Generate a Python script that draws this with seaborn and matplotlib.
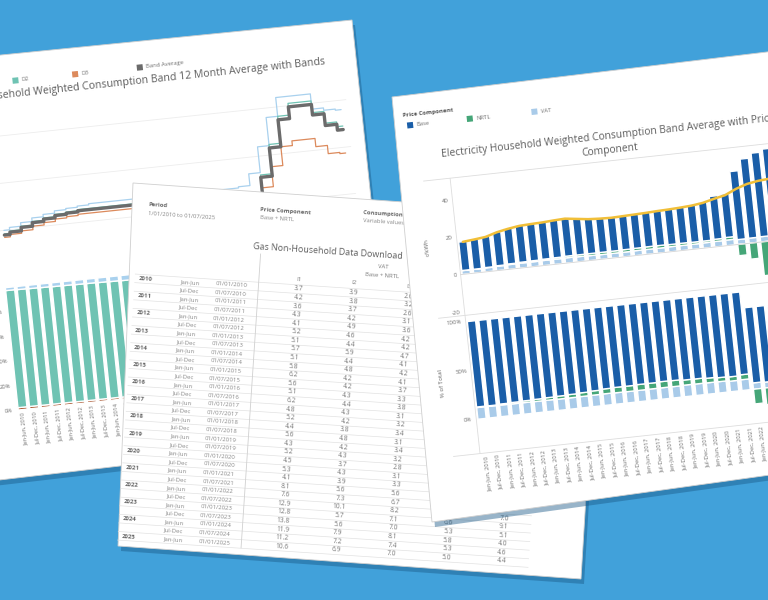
import numpy as np
import pandas as pd
import matplotlib
matplotlib.use("Agg")
import matplotlib.pyplot as plt
from matplotlib.colors import ListedColormap
from matplotlib.patches import Patch, Polygon, Rectangle
from matplotlib.transforms import Affine2D, IdentityTransform, offset_copy
import seaborn as sns

# ---------------- data ----------------
# left sheet: gas household bands, 12 month average (c/kWh), half-years 2010 H1 .. 2025 H1
gas_periods = [f"{h}, {y}" for y in range(2010, 2026) for h in ("Jan-Jun", "Jul-Dec")][:31]
gas_d1 = [4.0, 4.2, 4.5, 4.8, 5.0, 5.2, 5.3, 5.4, 5.5, 5.5, 5.5, 5.5, 5.5, 5.4, 5.4, 5.4,
          5.4, 5.4, 5.5, 5.5, 5.5, 5.6, 6.6, 8.8, 11.2, 12.8, 12.8, 12.8, 11.5, 11.3, 11.2]
gas_d2 = [3.7, 3.9, 4.2, 4.5, 4.7, 4.9, 5.0, 5.1, 5.1, 5.1, 5.1, 5.1, 5.0, 4.9, 4.8, 4.7,
          4.7, 4.6, 4.6, 4.5, 4.4, 4.4, 4.7, 6.4, 8.9, 11.2, 12.2, 12.2, 11.2, 10.2, 9.8]
gas_d3 = [3.4, 3.6, 3.8, 4.1, 4.3, 4.5, 4.6, 4.7, 4.7, 4.7, 4.7, 4.7, 4.6, 4.5, 4.4, 4.3,
          4.3, 4.2, 4.2, 4.1, 4.0, 4.0, 4.2, 5.3, 7.0, 8.6, 9.0, 9.0, 8.3, 7.6, 7.5]
gas_avg = [3.6, 3.8, 4.1, 4.4, 4.6, 4.8, 4.9, 5.0, 5.0, 5.0, 5.0, 5.0, 4.9, 4.8, 4.7, 4.6,
           4.6, 4.5, 4.5, 4.4, 4.3, 4.3, 4.6, 6.2, 8.6, 10.9, 11.9, 11.9, 11.0, 10.0, 9.5]
# share of each band (% of total)
gas_d1_pct = [2.4, 2.6, 2.8, 3.0, 3.2, 3.3, 3.5, 3.6, 3.8, 4.0, 4.2, 4.3, 4.4, 4.5, 4.6, 4.7,
              4.8, 4.9, 5.0, 5.0, 5.1, 5.1, 5.2, 5.2, 5.3, 5.3, 5.4, 5.4, 5.4, 5.5, 5.5]
gas_d2_pct = [95.7, 95.5, 95.4, 95.2, 95.0, 95.0, 94.8, 94.7, 94.5, 94.4, 94.2, 94.1, 94.0, 93.9,
              93.9, 93.8, 93.7, 93.6, 93.5, 93.5, 93.4, 93.5, 93.4, 93.4, 93.3, 93.3, 93.2, 93.2,
              93.2, 93.1, 93.1]
gas_d3_pct = [1.9, 1.9, 1.8, 1.8, 1.8, 1.7, 1.7, 1.7, 1.7, 1.6, 1.6, 1.6, 1.6, 1.6, 1.5, 1.5,
              1.5, 1.5, 1.5, 1.5, 1.5, 1.4, 1.4, 1.4, 1.4, 1.4, 1.4, 1.4, 1.4, 1.4, 1.4]

# middle sheet: gas non-household download table
tab_years = [str(y) for y in range(2010, 2026)]
tab_halves = ["Jan-Jun", "Jul-Dec"]
tab_i1 = [3.7, 4.2, 3.6, 4.3, 4.1, 5.2, 5.1, 5.7, 5.1, 5.8, 6.2, 5.6, 5.1, 6.2, 4.8, 5.2,
          4.4, 5.6, 4.3, 5.2, 4.5, 5.3, 4.1, 8.1, 7.6, 12.9, 12.8, 13.8, 11.9, 11.2, 10.6]
tab_i2 = [3.9, 3.8, 3.7, 4.2, 4.9, 4.6, 4.4, 5.9, 4.4, 4.8, 4.2, 4.2, 4.3, 4.4, 4.3, 4.2,
          3.8, 4.8, 4.2, 4.3, 3.7, 4.3, 3.9, 5.6, 7.3, 10.1, 5.7, 5.6, 7.9, 7.2, 6.9]
tab_i3 = [2.6, 3.2, 2.6, 3.1, 3.6, 4.2, 4.2, 4.7, 4.1, 4.2, 4.1, 3.7, 3.3, 3.8, 3.1, 3.2,
          3.4, 3.1, 3.4, 3.2, 2.8, 3.1, 3.3, 5.6, 6.7, 8.2, 7.1, 7.0, 8.1, 7.4, 7.0]
tab_i4 = [2.4, 2.9, 2.5, 2.9, 3.3, 3.8, 3.8, 4.2, 3.7, 3.8, 3.6, 3.3, 3.0, 3.4, 2.8, 2.9,
          3.0, 2.8, 3.0, 2.9, 2.5, 2.8, 3.0, 5.0, 6.1, 7.4, 6.6, 5.3, 5.8, 5.3, 5.0]
tab_i5 = [2.2, 2.6, 2.3, 2.7, 3.0, 3.5, 3.4, 3.9, 3.4, 3.5, 3.3, 3.0, 2.7, 3.1, 2.6, 2.7,
          2.8, 2.6, 2.8, 2.7, 2.3, 2.6, 2.8, 4.6, 5.7, 7.0, 9.1, 5.1, 4.0, 4.6, 4.4]

# right sheet: electricity household, c/kWh by price component, 2010 H1 .. 2023 H2
elec_periods = [f"{h}, {y}" for y in range(2010, 2024) for h in ("Jan-Jun", "Jul-Dec")]
elec_vat = [2.0, 2.0, 2.1, 2.3, 2.5, 2.6, 2.6, 2.7, 2.7, 2.8, 2.7, 2.6, 2.5, 2.5, 2.5, 2.6,
            2.6, 2.6, 2.7, 2.7, 2.7, 2.8, 2.9, 3.0, 2.6, 2.7, 2.8, 2.8]
elec_nrtl = [0.1, 0.1, 0.2, 0.3, 0.4, 0.5, 0.6, 0.7, 0.8, 0.9, 1.0, 1.1, 1.2, 1.2, 1.3, 1.3,
             1.4, 1.4, 1.2, 1.2, 1.1, 1.0, 1.2, 1.4, -6.0, -8.5, -18.0, -12.0]
elec_base = [15.2, 15.7, 16.3, 17.9, 18.9, 19.5, 19.7, 19.8, 20.0, 20.1, 19.3, 18.5, 18.1, 17.9,
             18.0, 18.1, 18.3, 18.6, 19.0, 19.3, 19.8, 20.5, 22.9, 23.1, 36.4, 42.3, 44.7, 46.2]
elec_avg = [17.2, 17.8, 18.5, 20.3, 21.5, 22.4, 22.7, 22.9, 23.3, 23.6, 22.8, 22.0, 21.6, 21.4,
            21.6, 21.8, 22.0, 22.3, 22.5, 22.8, 23.2, 24.0, 25.5, 26.8, 29.5, 31.5, 32.5, 33.0]
elec_vat_pct = [11.9, 11.8, 11.8, 11.7, 11.7, 11.6, 11.6, 11.5, 11.5, 11.6, 11.7, 11.8, 11.6, 11.5,
                11.5, 11.6, 11.6, 11.5, 11.8, 11.7, 11.6, 11.5, 10.8, 11.0, 6.5, 6.0, 5.8, 5.8]
elec_nrtl_pct = [0.6, 0.6, 1.1, 1.5, 1.8, 2.2, 2.6, 3.0, 3.4, 3.8, 4.3, 5.0, 5.5, 5.6, 6.0, 5.9,
                 6.3, 6.2, 5.2, 5.2, 4.7, 4.1, 4.4, 5.1, -15.0, -17.0, -30.0, -24.0]
elec_base_pct = [87.5, 87.6, 87.1, 86.8, 86.5, 86.2, 85.8, 85.5, 85.1, 84.6, 84.0, 83.2, 82.9, 82.9,
                 82.5, 82.5, 82.1, 82.3, 83.0, 83.1, 83.7, 84.4, 84.8, 83.9, 77.0, 77.5, 77.0, 77.0]

# ---------------- style ----------------
BG = "#41a1da"
TXT = "#707070"
C_D1, C_D2, C_D3, C_AVG = "#a9d1ee", "#6fc3b3", "#dc8a5c", "#6b6b6b"
C_D3_BAR = "#a9542e"
C_BASE, C_NRTL, C_VAT, C_LINE = "#1a5ea8", "#45a678", "#a9cbe9", "#f1bf38"

sns.set_theme(style="white")
plt.rcParams["font.family"] = ["Open Sans", "DejaVu Sans"]

W, H = 768, 600
fig = plt.figure(figsize=(W / 100, H / 100), dpi=100)
fig.patch.set_facecolor(BG)


def sheet(corners, z):
    # paper outline given in picture pixels (y down)
    pts = [(x, H - y) for x, y in corners]
    fig.add_artist(Polygon([(x + 3, y - 5) for x, y in pts], closed=True,
                           transform=IdentityTransform(), facecolor="#1b5a88",
                           alpha=0.45, edgecolor="none", zorder=z - 0.2))
    fig.add_artist(Polygon(pts, closed=True, transform=IdentityTransform(),
                           facecolor="white", edgecolor="#cfcfcf", lw=0.6, zorder=z - 0.1))


def px_axes(x0, y0, w, h, z):
    ax = fig.add_axes([x0 / W, y0 / H, w / W, h / H], zorder=z)
    ax.patch.set_visible(False)
    return ax


def tilt(ax, cx, cy, ang):
    rot = Affine2D().rotate_deg_around(cx, cy, ang)
    for a in list(ax.patches) + list(ax.lines) + list(ax.collections) + list(ax.texts):
        base = a.get_data_transform() if isinstance(a, Patch) else a.get_transform()
        a.set_transform(base + rot)
        a.set_clip_on(False)
    for t in ax.texts:
        t.set_rotation(t.get_rotation() + ang)
        t.set_rotation_mode("anchor")
    ax.set_axis_off()


def ylabels(ax, vals, labels, size, dx=-4):
    tr = offset_copy(ax.get_yaxis_transform(), fig=fig, x=dx, y=0, units="dots")
    for v, s in zip(vals, labels):
        ax.text(0, v, s, transform=tr, ha="right", va="center", fontsize=size, color=TXT)


def xlabels(ax, labels, size, dy=-3):
    tr = offset_copy(ax.get_xaxis_transform(), fig=fig, x=0, y=dy, units="dots")
    for i, s in enumerate(labels):
        ax.text(i, 0, s, transform=tr, rotation=90, ha="right", va="center",
                rotation_mode="anchor", fontsize=size, color=TXT)


def stacked(ax, labels, parts, colors, width):
    # parts from bottom to top; negative values hang below zero
    pos = np.zeros(len(labels))
    for vals, col in zip(parts, colors):
        vals = np.asarray(vals, dtype=float)
        bottom = np.where(vals >= 0, pos, 0.0)
        sns.barplot(x=labels, y=vals, bottom=bottom, color=col, width=width,
                    saturation=1, errorbar=None, ax=ax)
        pos = pos + np.clip(vals, 0, None)


# ================= sheet 1 : gas household bands =================
C1 = (352, 580)
A1 = 6.0
sheet([(-420, 97), (352, 20), (396, 434), (-380, 524)], 2)

fr1 = px_axes(-420, 159, 772, 421, 3)
fr1.set_xlim(-420, 352)
fr1.set_ylim(159, 580)
fr1.text(136, 541, "Gas Household Weighted Consumption Band 12 Month Average with Bands",
         ha="center", va="center", fontsize=7.6, color="#5e5e5e")
for x, name, col in zip([-49, 11, 71, 136], ["D1", "D2", "D3", "Band Average"],
                        [C_D1, C_D2, C_D3, C_AVG]):
    fr1.add_patch(Rectangle((x - 3, 552), 6, 6, color=col, lw=0))
    fr1.text(x + 6, 555, name, ha="left", va="center", fontsize=4.2, color=TXT)

ax1a = px_axes(-22, 360, 359.6, 165, 3)
idx = np.arange(len(gas_periods))
for v in [4, 8, 12]:
    ax1a.axhline(v, color="#ededed", lw=0.6)
for vals, col, lw in [(gas_d1, C_D1, 0.9), (gas_d2, C_D2, 0.9), (gas_d3, C_D3, 0.9),
                      (gas_avg, C_AVG, 2.4)]:
    sns.lineplot(x=idx, y=vals, color=col, lw=lw, drawstyle="steps-mid",
                 errorbar=None, legend=False, ax=ax1a)
ax1a.set_xlim(-0.5, 30.5)
ax1a.set_ylim(0, 14)
tilt(ax1a, *C1, A1)

ax1b = px_axes(-22, 227, 359.6, 123, 3)
stacked(ax1b, gas_periods, [gas_d3_pct, gas_d2_pct, gas_d1_pct], [C_D3_BAR, C_D2, C_D1], 0.78)
ax1b.set_xlim(-0.5, 30.5)
ax1b.set_ylim(0, 100)
ylabels(ax1b, [0, 20, 40, 60, 80, 100], ["0%", "20%", "40%", "60%", "80%", "100%"], 4.2)
xlabels(ax1b, gas_periods, 4.0)
tilt(ax1b, *C1, A1)
tilt(fr1, *C1, A1)

# ================= sheet 2 : download table =================
C2 = (133, 417)
A2 = -3.8
sheet([(133, 183), (603, 216), (581, 579), (118, 546)], 5)

tab = pd.DataFrame({"I1": tab_i1, "I2": tab_i2, "I3": tab_i3, "I4": tab_i4, "I5": tab_i5})
ax2 = px_axes(133 + 145, 417 - 357.3, 275, 266.6, 6)
sns.heatmap(tab, ax=ax2, annot=True, fmt=".1f", cmap=ListedColormap(["white"]), cbar=False,
            annot_kws={"size": 4.8, "color": "#777777"})


def tx(u):
    return (u - 145) / 55


def ty(v):
    return (v - 90.7) / 8.6


n_rows = len(tab_i1)
ax2.hlines(np.arange(n_rows + 1), tx(8), 5, color="#e2e2e2", lw=0.5)
ax2.vlines(tx(132), ty(62), n_rows, color="#d0d0d0", lw=0.6)
for i in range(n_rows):
    year = tab_years[i // 2]
    half = tab_halves[i % 2]
    if i % 2 == 0:
        ax2.text(tx(12), i + 0.5, year, ha="left", va="center", fontsize=4.3,
                 fontweight="bold", color="#666666")
    ax2.text(tx(54), i + 0.5, half, ha="left", va="center", fontsize=4.3, color="#888888")
    ax2.text(tx(89), i + 0.5, f"01/{'01' if i % 2 == 0 else '07'}/{year}", ha="left",
             va="center", fontsize=4.3, color="#888888")
for j, col in enumerate(tab.columns):
    ax2.text(j + 0.5, ty(85), col, ha="center", va="center", fontsize=4.4, color="#777777")
ax2.text(tx(255), ty(67), "VAT", ha="center", va="center", fontsize=4.2, color="#777777")
ax2.text(tx(255), ty(76), "Base + NRTL", ha="center", va="center", fontsize=4.2, color="#777777")
ax2.text(tx(124), ty(55), "Gas Non-Household Data Download", ha="left", va="center",
         fontsize=6.4, color="#5e5e5e")
ax2.text(tx(17), ty(20), "Period", ha="left", va="center", fontsize=4.2, fontweight="bold", color="#666666")
ax2.text(tx(17), ty(29), "1/01/2010 to 01/07/2025", ha="left", va="center", fontsize=4.2, color="#888888")
ax2.text(tx(129), ty(18), "Price Component", ha="left", va="center", fontsize=4.2, fontweight="bold", color="#666666")
ax2.text(tx(129), ty(26), "Base + NRTL", ha="left", va="center", fontsize=4.2, color="#888888")
ax2.text(tx(232), ty(14), "Consumption Band", ha="left", va="center", fontsize=4.2, fontweight="bold", color="#666666")
ax2.text(tx(232), ty(22), "Variable values", ha="left", va="center", fontsize=4.2, color="#888888")
tilt(ax2, *C2, A2)

# ================= sheet 3 : electricity by price component =================
C3 = (392, 503)
A3 = 6.2
sheet([(392, 97), (950, 30), (950, 450), (432, 522)], 8)

fr3 = px_axes(392, 503 - 440, 560, 440, 9)
fr3.set_xlim(0, 560)
fr3.set_ylim(440, 0)
fr3.text(9, 20, "Price Component", ha="left", va="center", fontsize=4.2, fontweight="bold", color="#555555")
for u, name, col in zip([15, 75, 140], ["Base", "NRTL", "VAT"], [C_BASE, C_NRTL, C_VAT]):
    fr3.add_patch(Rectangle((u - 3, 27), 6, 6, color=col, lw=0))
    fr3.text(u + 6, 30, name, ha="left", va="center", fontsize=4.2, color=TXT)
fr3.text(211, 63, "Electricity Household Weighted Consumption Band Average with Price",
         ha="center", va="center", fontsize=7.4, color="#5e5e5e")
fr3.text(211, 77, "Component", ha="center", va="center", fontsize=7.4, color="#5e5e5e")
fr3.text(19, 153, "c/kWh", rotation=90, ha="center", va="center", fontsize=4.4, color="#666666")
fr3.text(19, 290, "% of Total", rotation=90, ha="center", va="center", fontsize=4.4, color="#666666")
fr3.hlines([87, 225, 364], 22, 560, color="#dddddd", lw=0.6)
fr3.vlines(49, 87, 364, color="#dddddd", lw=0.6)

ax3a = px_axes(392 + 49, 503 - 223.5, 358, 137.3, 9)
ax3a.axhline(0, color="#d5d5d5", lw=0.6)
stacked(ax3a, elec_periods, [elec_vat, elec_nrtl, elec_base], [C_VAT, C_NRTL, C_BASE], 0.72)
sns.lineplot(x=np.arange(len(elec_periods)), y=elec_avg, color=C_LINE, lw=1.8,
             errorbar=None, legend=False, ax=ax3a)
ax3a.set_xlim(-0.5, 30.5)
ax3a.set_ylim(-21, 52)
ylabels(ax3a, [-20, 0, 20, 40], ["-20", "0", "20", "40"], 4.4)
tilt(ax3a, *C3, A3)

ax3b = px_axes(392 + 49, 503 - 364, 358, 137.5, 9)
stacked(ax3b, elec_periods, [elec_vat_pct, elec_nrtl_pct, elec_base_pct],
        [C_VAT, C_NRTL, C_BASE], 0.72)
ax3b.set_xlim(-0.5, 30.5)
ax3b.set_ylim(-35, 105)
ylabels(ax3b, [0, 50, 100], ["0%", "50%", "100%"], 4.4)
xlabels(ax3b, elec_periods, 4.2)
tilt(ax3b, *C3, A3)
tilt(fr3, *C3, A3)

fig.savefig("out.png", dpi=100, facecolor=BG)
